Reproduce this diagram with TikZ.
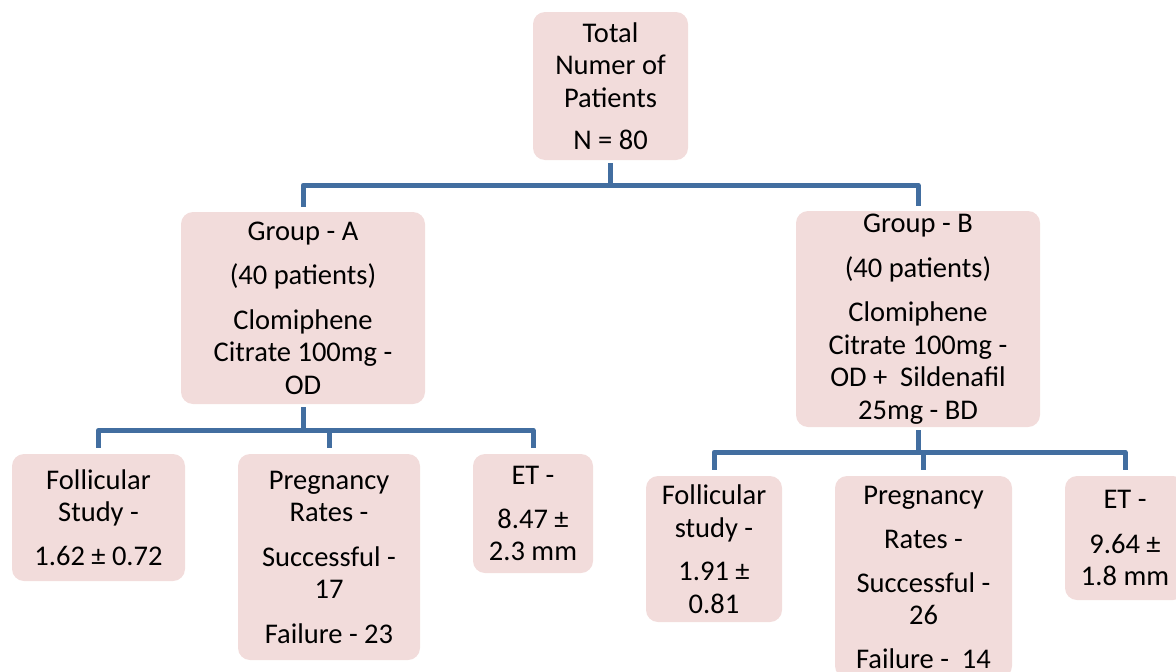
\documentclass[tikz,border=0pt]{standalone}
\usepackage{fontspec}
\setmainfont{Carlito}
\definecolor{boxfill}{RGB}{242,220,219}
\definecolor{connblue}{RGB}{66,110,160}
\tikzset{
  box/.style={rectangle, rounded corners=12pt, fill=boxfill, draw=none, align=center,
    inner sep=0pt, font=\fontsize{28.5}{32.5}\selectfont},
  conn/.style={draw=connblue, line width=5pt, line join=round}
}
\begin{document}
\begin{tikzpicture}[x=1pt,y=-1pt]
\useasboundingbox (0,0) rectangle (1176,672);
\clip (0,0) rectangle (1176,672);
\node[box, minimum width=155pt, minimum height=148pt] (top) at (610.5,86)
  {Total\\Numer of\\Patients\\[10pt]N = 80};
\node[box, minimum width=244pt, minimum height=192pt] (ga) at (303,308)
  {Group - A\\[12pt](40 patients)\\[12pt]Clomiphene\\Citrate 100mg -\\OD};
\node[box, minimum width=244pt, minimum height=216pt] (gb) at (918,319)
  {Group - B\\[12pt](40 patients)\\[12pt]Clomiphene\\Citrate 100mg -\\OD +~ Sildenafil\\25mg - BD};
\node[box, minimum width=173pt, minimum height=127pt] (fa) at (98.5,517.5)
  {Follicular\\Study -\\[11pt]1.62 ± 0.72};
\node[box, minimum width=182pt, minimum height=206pt] (pa) at (329,557)
  {Pregnancy\\Rates -\\[12pt]Successful -\\17\\[12pt]Failure - 23};
\node[box, minimum width=120pt, minimum height=119pt] (ea) at (533,513.5)
  {ET -\\[11pt]8.47 ±\\2.3 mm};
\node[box, minimum width=136pt, minimum height=146pt] (fb) at (714,549)
  {Follicular\\study -\\[11pt]1.91 ±\\0.81};
\node[box, minimum width=177pt, minimum height=202pt] (pb) at (923.5,577)
  {Pregnancy\\[12pt]Rates -\\[11pt]Successful -\\26\\[11pt]Failure -~ 14};
\node[box, minimum width=120pt, minimum height=124pt] (eb) at (1125,538)
  {ET -\\[12pt]9.64 ±\\1.8 mm};
% top connectors
\draw[conn] ([yshift=-3pt]top.south) -- ++(0,22) coordinate (jt);
\draw[conn] ([yshift=5pt]ga.north) |- (jt) -| ([yshift=5pt]gb.north);
% group A connectors
\draw[conn] ([yshift=-3pt]ga.south) -- ++(0,23) coordinate (ja);
\draw[conn] ([yshift=6pt]fa.north) |- (ja) -| ([yshift=6pt]ea.north);
\draw[conn] ([yshift=6pt]pa.north) -- (pa.north |- ja);
% group B connectors
\draw[conn] ([yshift=-3pt]gb.south) -- ++(0,22) coordinate (jb);
\draw[conn] ([yshift=6pt]fb.north) |- (jb) -| ([yshift=6pt]eb.north);
\draw[conn] ([yshift=6pt]pb.north) -- (pb.north |- jb);
\end{tikzpicture}
\end{document}
